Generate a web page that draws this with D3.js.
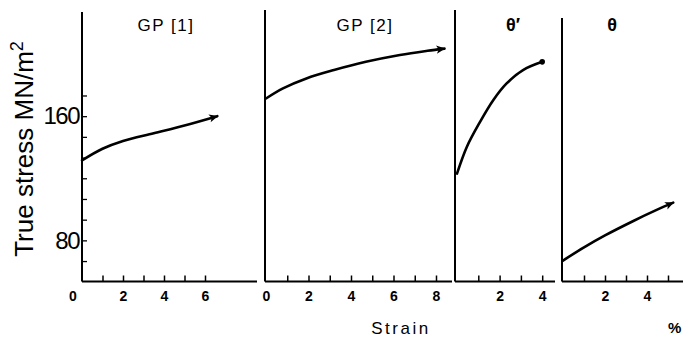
<!DOCTYPE html>
<html>
<head>
<meta charset="utf-8">
<script src="https://cdn.jsdelivr.net/npm/d3@7"></script>
<style>
  html, body { margin: 0; padding: 0; background: #fff; }
  svg { display: block; font-family: "Liberation Sans", Arial, sans-serif; }
</style>
</head>
<body>
<svg id="chart" width="683" height="337"></svg>
<script>
// ---- data ----
const panelTitles = ["GP [1]", "GP [2]", "θ′", "θ"];
const gp1Strain = [0, 1, 2, 3.5, 5, 6.6];
const gp1Stress = [131.5, 139, 144, 149, 154, 160];
const gp2Strain = [0, 0.8, 1.9, 3.2, 4.7, 6.3, 7.6, 8.4];
const gp2Stress = [171.4, 177.9, 184.3, 189.7, 195, 199.4, 202.1, 203.5];
const thetaPStrain = [0, 0.46, 1.08, 1.7, 2.33, 3.1, 4.0];
const thetaPStress = [123, 140.2, 156.3, 170.3, 181.1, 189.7, 195];
const thetaStrain = [0, 1, 2, 3.35, 4.46, 5.25];
const thetaStress = [67, 75.5, 83.2, 92.5, 99.6, 104.3];
const yMajorTicks = [80, 160];
const yMinorTicks = [66.67, 80, 93.33, 106.67, 120, 133.33, 146.67, 160, 173.33];
const xTickValues = [[1,2,3,4,5,6], [1,2,3,4,5,6,7,8], [1,2,3,4], [1,2,3,4,5]];
const xTickLabels = [[0,2,4,6], [0,2,4,6,8], [2,4], [2,4]];
const yLabel = "True stress MN/m";
const xLabel = "Strain";
const unitLabel = "%";

// ---- layout ----
const svg = d3.select("#chart");
const y = d3.scaleLinear().domain([53.5, 228.4]).range([281.5, 10]);

const layout = [
  {axisX: 82,  x0: 82,  ppu: 20.5,  right: 257, top: 12, titleX: 166, end: "arrow"},
  {axisX: 265, x0: 266, ppu: 21.25, right: 452, top: 10, titleX: 365, end: "arrow"},
  {axisX: 455, x0: 457, ppu: 21.3,  right: 555, top: 10, titleX: 513, end: "dot"},
  {axisX: 562, x0: 563, ppu: 21,    right: 683, top: 18, titleX: 612, end: "arrow"}
];
const series = [
  [gp1Strain, gp1Stress],
  [gp2Strain, gp2Stress],
  [thetaPStrain, thetaPStress],
  [thetaStrain, thetaStress]
];

const defs = svg.append("defs");
defs.append("marker")
  .attr("id", "arrow")
  .attr("viewBox", "0 0 10 10")
  .attr("refX", 9).attr("refY", 5)
  .attr("markerUnits", "userSpaceOnUse")
  .attr("markerWidth", 14).attr("markerHeight", 9)
  .attr("orient", "auto")
  .append("path").attr("d", "M0,0.5 L10,5 L0,9.5 L2.5,5 Z").attr("fill", "#000");

layout.forEach((L, i) => {
  const x = d3.scaleLinear()
    .domain([0, (L.right - L.x0) / L.ppu])
    .range([L.x0, L.right]);
  const g = svg.append("g");

  // vertical axis line
  g.append("line")
    .attr("x1", L.axisX).attr("x2", L.axisX)
    .attr("y1", L.top).attr("y2", y(53.5))
    .attr("stroke", "#000").attr("stroke-width", 2);
  // baseline
  g.append("line")
    .attr("x1", L.axisX).attr("x2", L.right)
    .attr("y1", y(53.5)).attr("y2", y(53.5))
    .attr("stroke", "#000").attr("stroke-width", 2);

  // x ticks (pointing up)
  const xt = g.append("g").attr("transform", `translate(0,${y(53.5)})`)
    .call(d3.axisTop(x).tickValues(xTickValues[i]).tickSize(6).tickFormat(""));
  xt.select(".domain").remove();
  xt.selectAll("line").attr("stroke", "#000").attr("stroke-width", 1.5);

  // x tick labels
  const xl = g.append("g").attr("transform", `translate(0,${y(53.5)})`)
    .call(d3.axisBottom(x).tickValues(xTickLabels[i]).tickSize(0).tickPadding(10).tickFormat(d3.format("d")));
  xl.select(".domain").remove();
  xl.selectAll("text")
    .attr("font-family", "Liberation Sans, Arial, sans-serif")
    .attr("font-size", 14).attr("font-weight", "bold").attr("fill", "#000");
  if (i === 0) {
    xl.selectAll(".tick").filter(d => d === 0)
      .attr("transform", `translate(${x(0) - 9},0)`);
  }

  // title
  g.append("text")
    .attr("x", L.titleX).attr("y", 31)
    .attr("text-anchor", "middle")
    .attr("font-size", i < 2 ? 17 : 18)
    .attr("font-weight", i < 2 ? "normal" : "bold")
    .attr("letter-spacing", i < 2 ? 1.5 : 0)
    .attr("fill", "#000")
    .text(panelTitles[i]);

  // curve
  const pts = series[i][0].map((s, k) => [s, series[i][1][k]]);
  const line = d3.line().x(d => x(d[0])).y(d => y(d[1])).curve(d3.curveCatmullRom.alpha(0.5));
  const path = g.append("path")
    .datum(pts)
    .attr("d", line)
    .attr("fill", "none")
    .attr("stroke", "#000")
    .attr("stroke-width", 2.6)
    .attr("stroke-linecap", "round");
  if (L.end === "arrow") path.attr("marker-end", "url(#arrow)");
  else {
    const last = pts[pts.length - 1];
    g.append("circle").attr("cx", x(last[0])).attr("cy", y(last[1])).attr("r", 2.8).attr("fill", "#000");
  }
});

// y ticks on first panel (inward)
const yt = svg.append("g").attr("transform", `translate(${layout[0].axisX},0)`)
  .call(d3.axisRight(y).tickValues(yMinorTicks).tickSize(5).tickFormat(""));
yt.select(".domain").remove();
yt.selectAll("line").attr("stroke", "#000").attr("stroke-width", 1.3);

const yl = svg.append("g").attr("transform", `translate(${layout[0].axisX - 3},0)`)
  .call(d3.axisLeft(y).tickValues(yMajorTicks).tickSize(0).tickPadding(0).tickFormat(d3.format("d")));
yl.select(".domain").remove();
yl.selectAll("text")
  .attr("font-family", "Liberation Sans, Arial, sans-serif")
  .attr("font-size", 24).attr("letter-spacing", -1.5).attr("fill", "#000");

// y label
const ylab = svg.append("text")
  .attr("transform", "translate(33,149) rotate(-90)")
  .attr("text-anchor", "middle")
  .attr("font-size", 26).attr("fill", "#000");
ylab.append("tspan").text(yLabel);
ylab.append("tspan").attr("dy", -10).attr("font-size", 18).text("2");

// x label
svg.append("text")
  .attr("x", 401).attr("y", 334)
  .attr("text-anchor", "middle")
  .attr("font-size", 17).attr("letter-spacing", 2.5).attr("fill", "#000")
  .text(xLabel);
svg.append("text")
  .attr("x", 668).attr("y", 333)
  .attr("font-size", 15).attr("font-weight", "bold").attr("fill", "#000")
  .text(unitLabel);
</script>
</body>
</html>
